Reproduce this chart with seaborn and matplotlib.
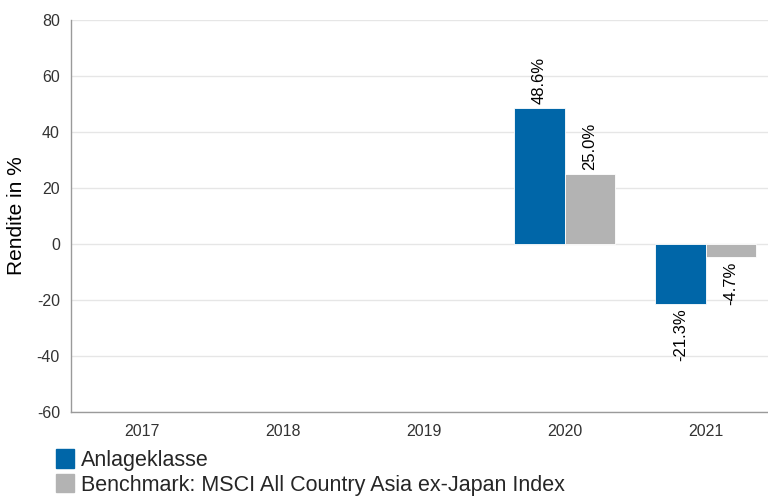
import pandas as pd
import numpy as np
import matplotlib.pyplot as plt
import seaborn as sns

# Jahresrenditen in %
years = ["2017", "2018", "2019", "2020", "2021"]
anlageklasse = [np.nan, np.nan, np.nan, 48.6, -21.3]
benchmark = [np.nan, np.nan, np.nan, 25.0, -4.7]
series_names = ["Anlageklasse", "Benchmark: MSCI All Country Asia ex-Japan Index"]
colors = ["#0066a8", "#b3b3b3"]

df = pd.DataFrame({
    "Jahr": years * 2,
    "Rendite": anlageklasse + benchmark,
    "Serie": [series_names[0]] * len(years) + [series_names[1]] * len(years),
})

sns.set_theme(style="white")
plt.rcParams["font.family"] = ["Liberation Sans", "DejaVu Sans"]
plt.rcParams["axes.unicode_minus"] = False

fig = plt.figure(figsize=(7.68, 4.98), dpi=100)
# Achse reicht rechts etwas über den Bildrand hinaus (wie im Original)
ax = fig.add_axes([71 / 768, 1 - 412 / 498, 705 / 768, (412 - 20) / 498])

sns.barplot(
    data=df, x="Jahr", y="Rendite", hue="Serie", order=years,
    hue_order=series_names, palette=colors, saturation=1, width=0.71,
    edgecolor="white", linewidth=0.6, ax=ax,
)

for cont in ax.containers:
    ax.bar_label(cont, fmt="%.1f%%", rotation=90, padding=3, fontsize=12, color="black")

ax.set_ylim(-60, 80)
ax.set_yticks(np.arange(-60, 81, 20))
ax.grid(axis="y", color="#e6e6e6", linewidth=1)
ax.set_axisbelow(True)
ax.set_xlabel("")
ax.set_ylabel("Rendite in %", fontsize=15, color="black", labelpad=8)
ax.tick_params(axis="both", length=0, labelsize=11.5, colors="#333333")
ax.tick_params(axis="x", pad=9)
ax.tick_params(axis="y", pad=8)

for side in ["top", "right"]:
    ax.spines[side].set_visible(False)
for side in ["left", "bottom"]:
    ax.spines[side].set_color("#9a9a9a")
    ax.spines[side].set_linewidth(1)

ax.legend_.remove()
handles = [plt.Rectangle((0, 0), 1, 1, color=c) for c in colors]
fig.legend(
    handles, series_names, loc="upper left",
    bbox_to_anchor=(56 / 768, 1 - 449 / 498), frameon=False,
    fontsize=15.5, handlelength=0.85, handleheight=0.95,
    handletextpad=0.3, labelspacing=0.15, borderpad=0, borderaxespad=0,
)

fig.savefig("out.png", dpi=100)
